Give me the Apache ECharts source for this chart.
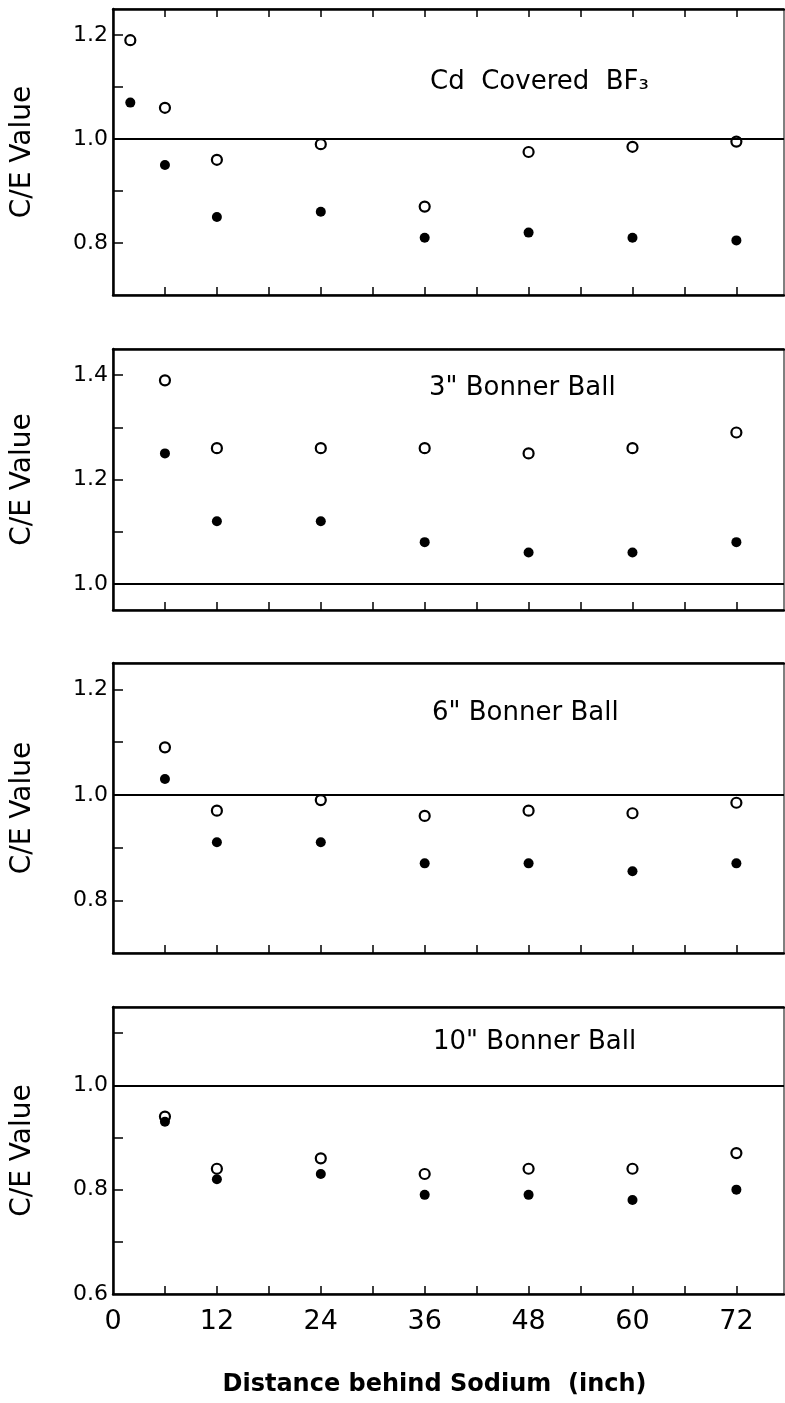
<!DOCTYPE html>
<html>
<head>
<meta charset="utf-8">
<script src="https://cdn.jsdelivr.net/npm/echarts@6/dist/echarts.min.js"></script>
<style>
  html, body { margin: 0; padding: 0; background: #fff; }
  #chart { width: 785px; height: 1403px; }
</style>
</head>
<body>
<div id="chart"></div>
<script>
// C/E values vs distance behind sodium, four detectors
// open circles / filled circles
const xPanel1 = [2, 6, 12, 24, 36, 48, 60, 72]
const xOthers = [6, 12, 24, 36, 48, 60, 72]

const cdOpen = [1.19, 1.06, 0.96, 0.99, 0.87, 0.975, 0.985, 0.995]
const cdFilled = [1.07, 0.95, 0.85, 0.86, 0.81, 0.82, 0.81, 0.805]

const b3Open = [1.39, 1.26, 1.26, 1.26, 1.25, 1.26, 1.29]
const b3Filled = [1.25, 1.12, 1.12, 1.08, 1.06, 1.06, 1.08]

const b6Open = [1.09, 0.97, 0.99, 0.96, 0.97, 0.965, 0.985]
const b6Filled = [1.03, 0.91, 0.91, 0.87, 0.87, 0.855, 0.87]

const b10Open = [0.94, 0.84, 0.86, 0.83, 0.84, 0.84, 0.87]
const b10Filled = [0.93, 0.82, 0.83, 0.79, 0.79, 0.78, 0.80]

const panelTitles = ['Cd  Covered  BF₃', '3" Bonner Ball', '6" Bonner Ball', '10" Bonner Ball']

const xTicks = [6, 12, 18, 24, 30, 36, 42, 48, 54, 60, 66, 72]
const xLabels = [0, 12, 24, 36, 48, 60, 72]

const yRanges = [[0.7, 1.25], [0.95, 1.45], [0.7, 1.25], [0.6, 1.15]]
const yTicks = [
  [0.8, 0.9, 1.0, 1.1, 1.2],
  [1.0, 1.1, 1.2, 1.3, 1.4],
  [0.8, 0.9, 1.0, 1.1, 1.2],
  [0.7, 0.8, 0.9, 1.0, 1.1]
]
const yLabels = [
  [0.8, 1.0, 1.2],
  [1.0, 1.2, 1.4],
  [0.8, 1.0, 1.2],
  [0.6, 0.8, 1.0]
]

const FONT = 'DejaVu Sans'
const grids = [
  { left: 113, right: 1, top: 9, height: 286 },
  { left: 113, right: 1, top: 349, height: 261 },
  { left: 113, right: 1, top: 663, height: 290 },
  { left: 113, right: 1, top: 1007, height: 287 }
]
const titlePos = [[430, 69], [429, 375], [432, 700], [433, 1029]]

const pairs = [
  [xPanel1, cdOpen, cdFilled],
  [xOthers, b3Open, b3Filled],
  [xOthers, b6Open, b6Filled],
  [xOthers, b10Open, b10Filled]
]

const zip = (xs, ys) => xs.map((x, i) => [x, ys[i]])

const xAxes = []
const yAxes = []
const series = []

grids.forEach((g, i) => {
  const last = i === 3
  xAxes.push({
    type: 'value', gridIndex: i, min: 0, max: 77.5, position: 'bottom',
    axisLine: { show: true, lineStyle: { color: '#000', width: 2.5 } },
    axisTick: { show: true, inside: true, length: 8, customValues: xTicks, lineStyle: { color: '#000', width: 1.5 } },
    axisLabel: {
      show: last, customValues: xLabels, margin: 14,
      color: '#000', fontSize: 27, fontFamily: FONT
    },
    splitLine: { show: false },
    name: last ? 'Distance behind Sodium  (inch)' : '',
    nameLocation: 'middle', nameGap: 79,
    nameTextStyle: { color: '#000', fontSize: 24, fontWeight: 'bold', fontFamily: FONT, padding: [0, 28, 0, 0] }
  })
  yAxes.push({
    type: 'value', gridIndex: i, min: yRanges[i][0], max: yRanges[i][1],
    axisLine: { show: true, lineStyle: { color: '#000', width: 2.5 } },
    axisTick: { show: true, inside: true, length: 10, customValues: yTicks[i], lineStyle: { color: '#000', width: 1.5 } },
    axisLabel: {
      customValues: yLabels[i], margin: 5, formatter: v => v.toFixed(1),
      color: '#000', fontSize: 22, fontFamily: FONT
    },
    splitLine: { show: false },
    name: 'C/E Value', nameLocation: 'middle', nameRotate: 90, nameGap: 76,
    nameTextStyle: { color: '#000', fontSize: 28, fontFamily: FONT }
  })
  const [xs, open, filled] = pairs[i]
  series.push({
    type: 'scatter', xAxisIndex: i, yAxisIndex: i,
    data: zip(xs, open), symbol: 'circle', symbolSize: 10,
    itemStyle: { color: '#fff', borderColor: '#000', borderWidth: 2.2, opacity: 1 },
    markLine: {
      silent: true, symbol: 'none', label: { show: false },
      lineStyle: { color: '#000', type: 'solid', width: 1.8 },
      data: [{ yAxis: 1.0 }]
    },
    z: 3
  })
  series.push({
    type: 'scatter', xAxisIndex: i, yAxisIndex: i,
    data: zip(xs, filled), symbol: 'circle', symbolSize: 10,
    itemStyle: { color: '#000', opacity: 1 },
    z: 3
  })
})

// top frame edges (only the first panel carries ticks on top)
grids.forEach((g, i) => {
  xAxes.push({
    type: 'value', gridIndex: i, min: 0, max: 77.5, position: 'top',
    axisLine: { show: true, lineStyle: { color: '#000', width: 2.5 } },
    axisTick: { show: i === 0, inside: true, length: 8, customValues: xTicks, lineStyle: { color: '#000', width: 1.5 } },
    axisLabel: { show: false },
    splitLine: { show: false }
  })
})

const chart = echarts.init(document.getElementById('chart'), null, { renderer: 'canvas' })
chart.setOption({
  backgroundColor: '#fff',
  animation: false,
  title: panelTitles.map((t, i) => ({
    text: t, left: titlePos[i][0], top: titlePos[i][1], padding: 0,
    textStyle: { color: '#000', fontSize: 26, fontWeight: 'normal', fontFamily: FONT }
  })),
  grid: grids.map(g => ({ ...g, show: true, borderColor: '#000', borderWidth: 1, backgroundColor: 'transparent' })),
  xAxis: xAxes,
  yAxis: yAxes,
  series
})
</script>
</body>
</html>
